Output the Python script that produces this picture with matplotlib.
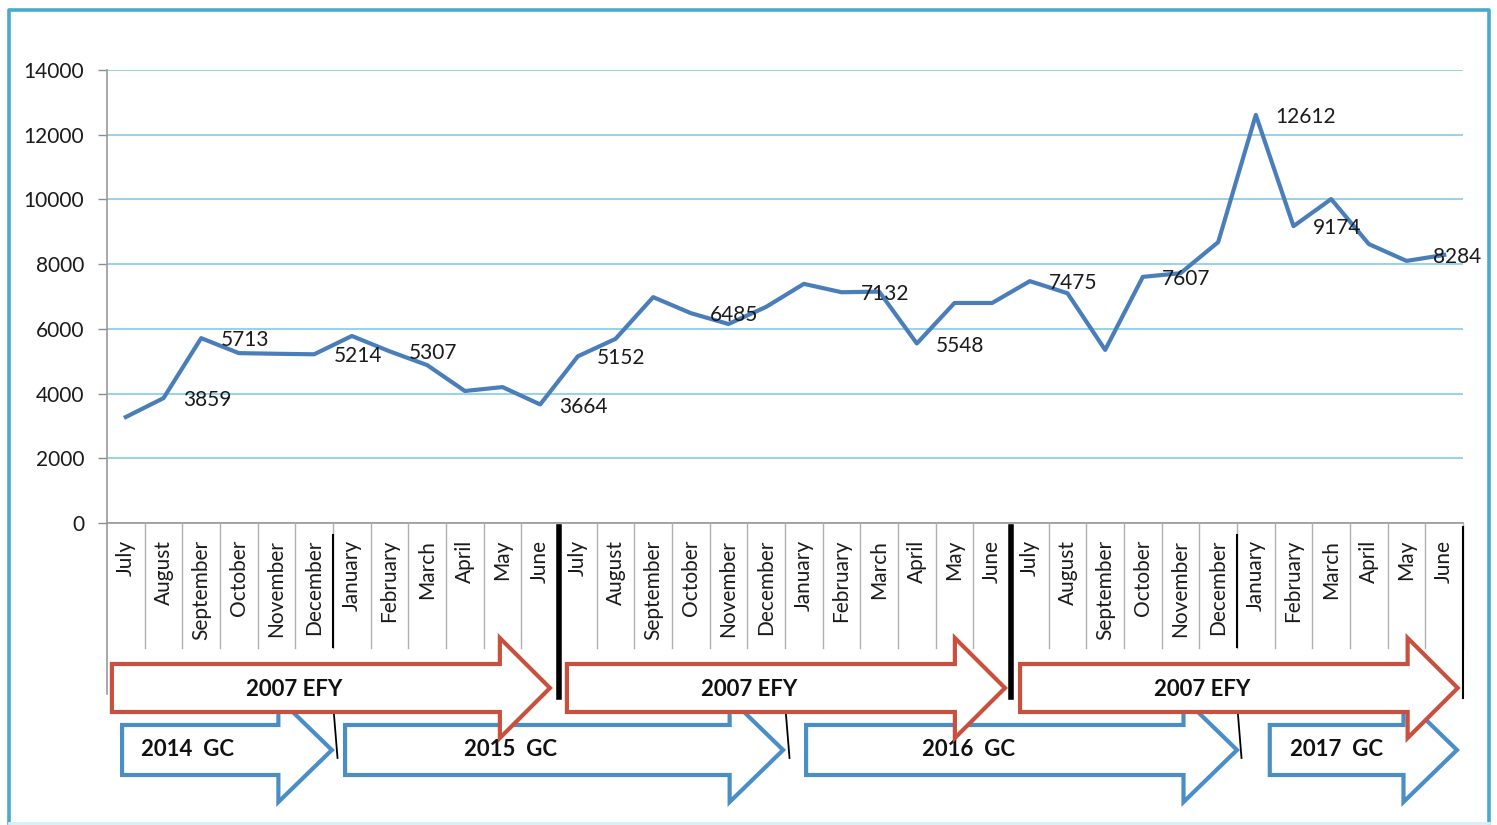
import matplotlib
matplotlib.use("Agg")
import matplotlib.pyplot as plt
from matplotlib.patches import Polygon
from matplotlib.lines import Line2D

plt.rcParams['font.family'] = ['Lato', 'DejaVu Sans']

# 月份 (July -> June), 세 회계연도
months = ["July", "August", "September", "October", "November", "December",
          "January", "February", "March", "April", "May", "June"]
categories = months * 3

year1 = [3275, 3859, 5713, 5250, 5230, 5214, 5780, 5307, 4880, 4080, 4200, 3664]
year2 = [5152, 5690, 6980, 6485, 6150, 6680, 7390, 7132, 7150, 5548, 6800, 6800]
year3 = [7475, 7100, 5350, 7607, 7720, 8680, 12612, 9174, 10010, 8620, 8100, 8284]
values = year1 + year2 + year3

# 값 라벨을 붙일 포인트 인덱스
labeled = [1, 2, 5, 7, 11, 12, 15, 19, 21, 24, 27, 30, 31, 35]

# 기간 화살표 (카테고리 좌표)
efy_names = ["2007 EFY", "2007 EFY", "2007 EFY"]
efy_start = [-0.37, 11.71, 23.74]
efy_end = [11.26, 23.34, 35.36]

gc_names = ["2014  GC", "2015  GC", "2016  GC", "2017  GC"]
gc_start = [-0.10, 5.82, 18.06, 30.37]
gc_end = [5.47, 17.45, 29.5, 35.34]
gc_text_shift = [-0.35, -0.7, -0.7, 0.0]

W, H = 1497, 825
fig = plt.figure(figsize=(W / 100, H / 100), dpi=100)

# 메인 그래프
ax = fig.add_axes([107 / W, (H - 523) / H, (1463 - 107) / W, (523 - 70) / H])
x = list(range(len(values)))
ax.plot(x, values, color="#4a7ebb", lw=3.0, solid_joinstyle="round", zorder=3)
for i in labeled:
    dx = -8 if i == len(values) - 1 else 14
    ax.annotate(str(values[i]), (i, values[i]), xytext=(dx, -1.5),
                textcoords="offset points", ha="left", va="center",
                fontsize=15, color="#1a1a1a", zorder=4)

ax.set_xlim(-0.5, len(values) - 0.5)
ax.set_ylim(0, 14000)
ax.set_yticks(range(0, 14001, 2000))
ax.set_xticks(x)
ax.set_xticklabels(categories, rotation=90, fontsize=15, color="#1a1a1a")
ax.tick_params(axis="x", length=0, pad=12)
ax.tick_params(axis="y", length=6.5, width=1, color="#8c8c8c", pad=10,
               labelsize=15, labelcolor="#1a1a1a")
ax.grid(axis="y", color="#8fcfe6", lw=1.3)
ax.set_axisbelow(True)
for s in ["top", "right"]:
    ax.spines[s].set_visible(False)
for s in ["left", "bottom"]:
    ax.spines[s].set_color("#9a9a9a")
    ax.spines[s].set_linewidth(1.2)

# 아래쪽 영역: 구분선 + 화살표 (y는 위에서부터 픽셀)
lo = fig.add_axes([107 / W, 0, (1463 - 107) / W, (H - 523) / H])
lo.set_xlim(-0.5, len(values) - 0.5)
lo.set_ylim(H, 523)
lo.axis("off")

for k in range(1, len(values) + 1):
    lo.plot([k - 0.5, k - 0.5], [523, 648], color="#b0b0b0", lw=1, clip_on=False)
lo.plot([-0.5, -0.5], [523, 694], color="#9a9a9a", lw=1.2, clip_on=False)

# 연도 경계선
for b in [11.5, 23.5]:
    lo.plot([b, b], [527, 697], color="black", lw=4, clip_on=False, zorder=6)
lo.plot([35.5, 35.5], [527, 698], color="black", lw=1.5, clip_on=False, zorder=6)
for b in [5.5, 29.5]:
    lo.plot([b, b], [535, 647], color="black", lw=1.5, clip_on=False)
for b in [5.5, 17.5, 29.5]:
    lo.plot([b + 0.02, b + 0.12], [712, 758], color="black", lw=1.3, clip_on=False)


def arrow_pts(x0, x1, yc, body, head, hl):
    xb = x1 - hl
    return [(x0, yc - body), (xb, yc - body), (xb, yc - head), (x1, yc),
            (xb, yc + head), (xb, yc + body), (x0, yc + body)]


for name, s, e, sh in zip(gc_names, gc_start, gc_end, gc_text_shift):
    lo.add_patch(Polygon(arrow_pts(s, e, 750, 25, 52, 1.42), closed=True,
                         facecolor="white", edgecolor="#4a8ec8", lw=3,
                         joinstyle="miter", clip_on=False, zorder=2))
    lo.text((s + e - 1.42) / 2 + sh, 749, name, ha="center", va="center",
            fontsize=16, fontweight="bold", color="#111111", zorder=2.5)

for name, s, e in zip(efy_names, efy_start, efy_end):
    lo.add_patch(Polygon(arrow_pts(s, e, 688, 24, 50, 1.33), closed=True,
                         facecolor="white", edgecolor="#c9503f", lw=3,
                         joinstyle="miter", clip_on=False, zorder=4))
    lo.text((s + e - 1.33) / 2 - 0.3, 689, name, ha="center", va="center",
            fontsize=16, fontweight="bold", color="#111111", zorder=5)

# 바깥 테두리
bx = [9, 9, 1489, 1489]
by = [823, 10, 10, 823]
fig.add_artist(Line2D([v / W for v in bx], [1 - v / H for v in by],
                      color="#4aaacb", lw=2.6, transform=fig.transFigure))
fig.add_artist(Line2D([9 / W, 1489 / W], [1 - 823 / H, 1 - 823 / H],
                      color="#d9f0f4", lw=2, transform=fig.transFigure))

fig.savefig("out.png", dpi=100)
